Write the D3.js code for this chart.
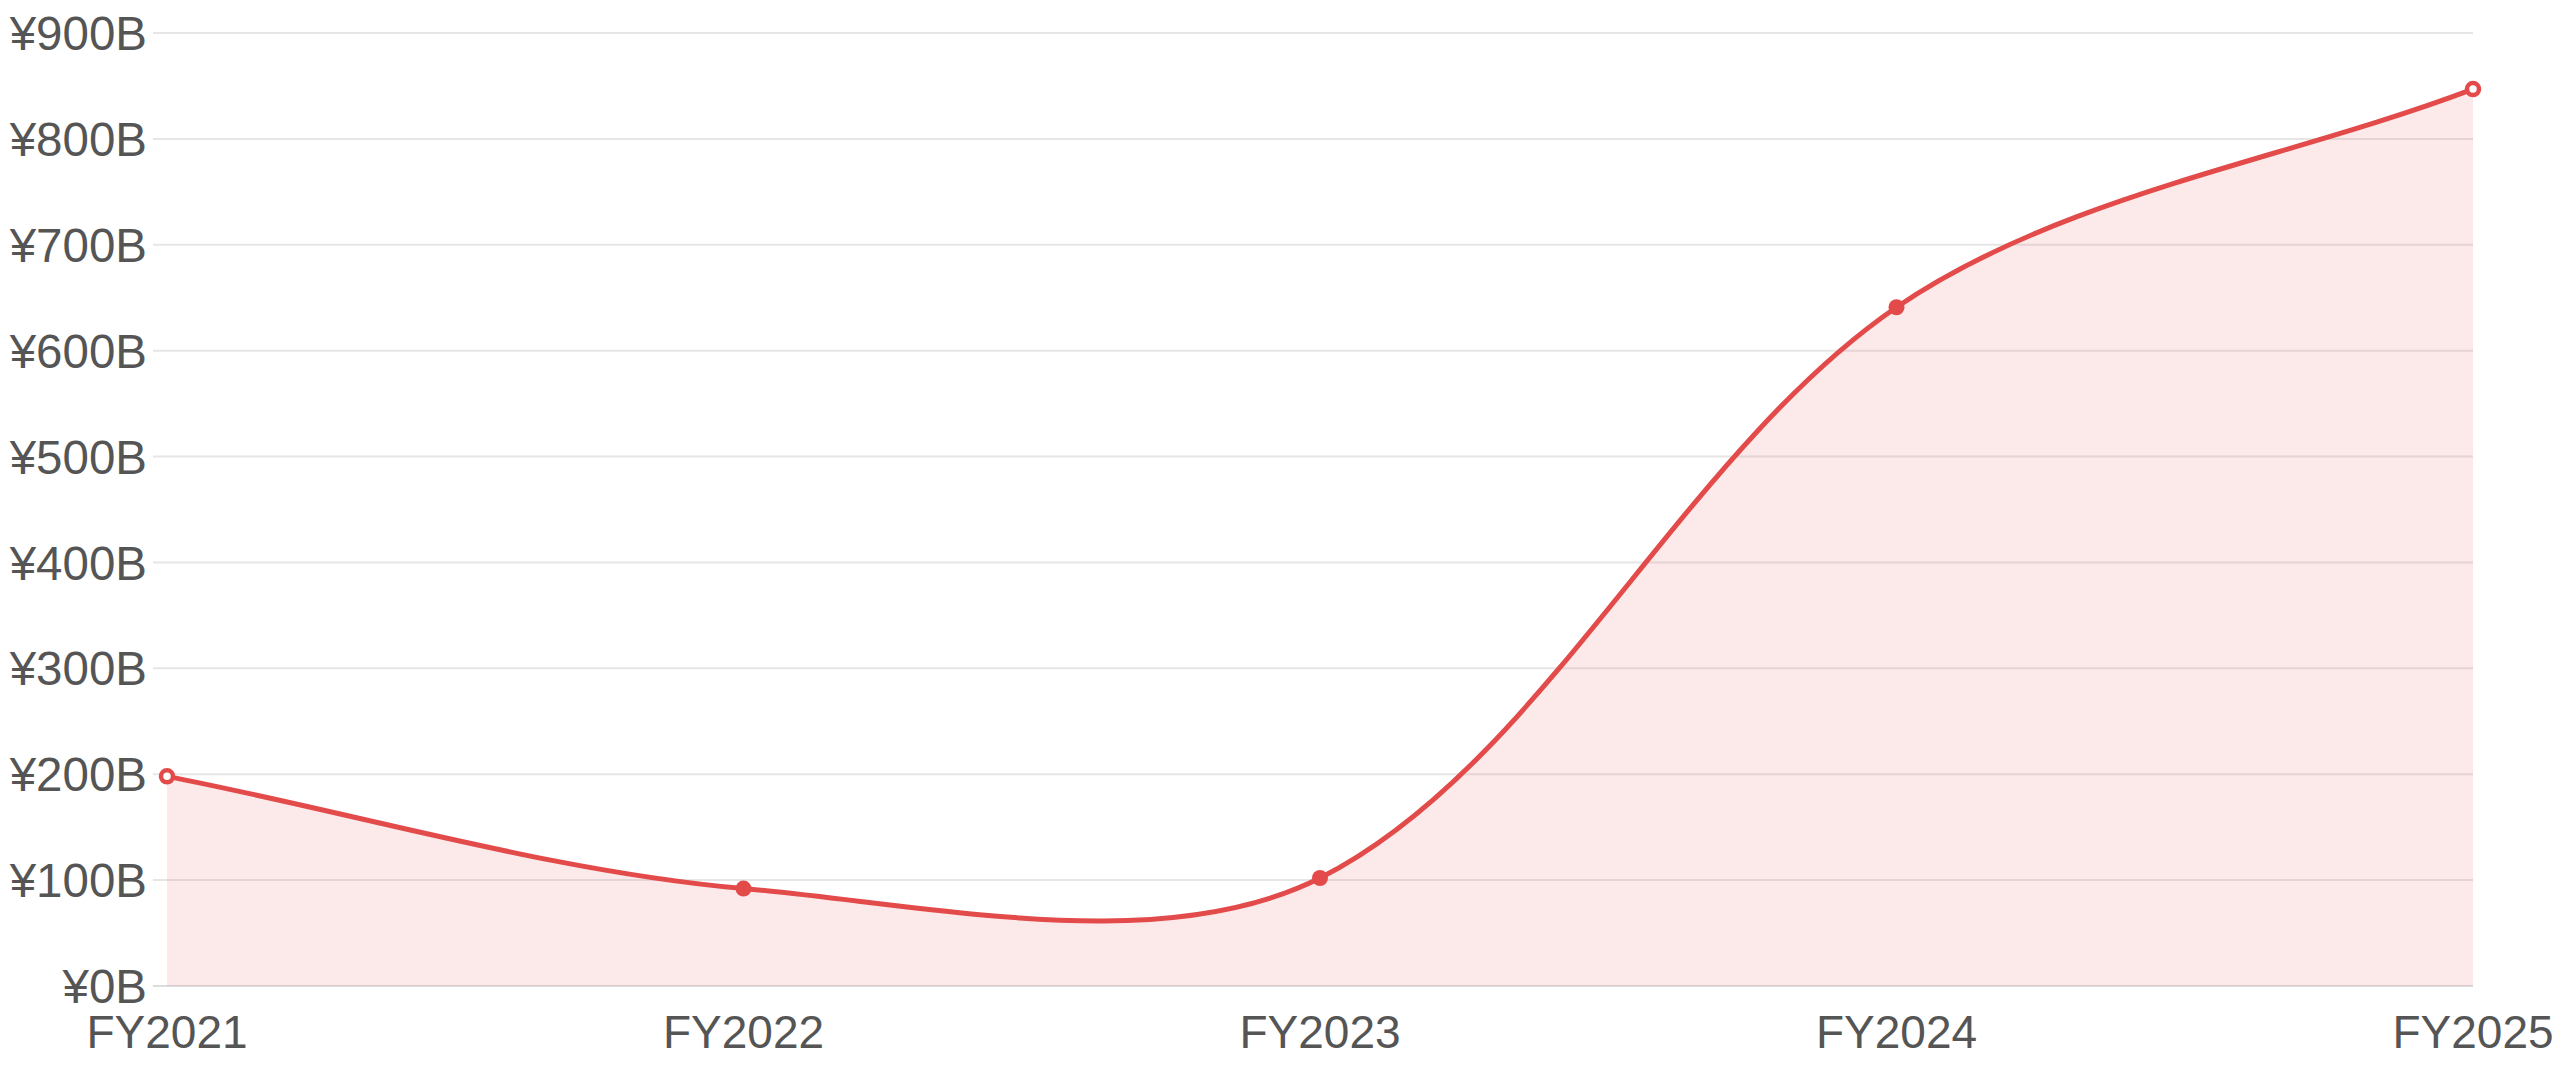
<!DOCTYPE html>
<html>
<head>
<meta charset="utf-8">
<script src="https://cdn.jsdelivr.net/npm/d3@7"></script>
<style>
  html, body { margin: 0; padding: 0; background: #fff; }
  svg { display: block; }
  .tick-label { font-family: "Liberation Sans", Arial, sans-serif; font-size: 46px; fill: #555; }
  .y-label { font-size: 47.5px; }
</style>
</head>
<body>
<svg id="chart" width="2560" height="1067"></svg>
<script>
// values (¥ billions)
const years = ['FY2021', 'FY2022', 'FY2023', 'FY2024', 'FY2025'];
const revenue = [198, 92, 102, 641, 847];
const yTicks = [0, 100, 200, 300, 400, 500, 600, 700, 800, 900];

const W = 2560, H = 1067;
const margin = {top: 33, right: 87, bottom: 81, left: 167};
const lineColor = '#e34b4b';
const tension = 0.33;

const svg = d3.select('#chart');

const x = d3.scalePoint()
    .domain(years)
    .range([margin.left, W - margin.right]);

const y = d3.scaleLinear()
    .domain([0, 900])
    .range([H - margin.bottom, margin.top]);

// grid
const grid = svg.append('g').attr('class', 'grid');
grid.selectAll('line')
    .data(yTicks)
    .enter().append('line')
    .attr('x1', margin.left - 14)
    .attr('x2', W - margin.right)
    .attr('y1', d => y(d))
    .attr('y2', d => y(d))
    .attr('stroke', d => d === 0 ? '#dcdcdc' : '#e6e6e6')
    .attr('stroke-width', 2);

// y labels
svg.append('g').selectAll('text')
    .data(yTicks)
    .enter().append('text')
    .attr('class', 'tick-label y-label')
    .attr('x', margin.left - 20)
    .attr('y', d => y(d))
    .attr('dy', '0.36em')
    .attr('text-anchor', 'end')
    .text(d => '¥' + d + 'B');

// x labels
svg.append('g').selectAll('text')
    .data(years)
    .enter().append('text')
    .attr('class', 'tick-label')
    .attr('x', d => x(d))
    .attr('y', H - 19)
    .attr('text-anchor', 'middle')
    .text(d => d);

// chart.js-like spline: control points weighted by segment length
const pts = years.map((yr, i) => [x(yr), y(revenue[i])]);

const controls = pts.map((p, i) => {
    const prev = pts[i - 1] || p;
    const next = pts[i + 1] || p;
    const d01 = Math.hypot(p[0] - prev[0], p[1] - prev[1]);
    const d12 = Math.hypot(next[0] - p[0], next[1] - p[1]);
    const s = d01 + d12 || 1;
    const fa = tension * d01 / s;
    const fb = tension * d12 / s;
    return {
        before: [p[0] - fa * (next[0] - prev[0]), p[1] - fa * (next[1] - prev[1])],
        after: [p[0] + fb * (next[0] - prev[0]), p[1] + fb * (next[1] - prev[1])]
    };
});

const buildPath = (closeToBase) => {
    const path = d3.path();
    path.moveTo(pts[0][0], pts[0][1]);
    for (let i = 1; i < pts.length; i++) {
        const c1 = controls[i - 1].after;
        const c2 = controls[i].before;
        path.bezierCurveTo(c1[0], c1[1], c2[0], c2[1], pts[i][0], pts[i][1]);
    }
    if (closeToBase) {
        path.lineTo(pts[pts.length - 1][0], y(0));
        path.lineTo(pts[0][0], y(0));
        path.closePath();
    }
    return path.toString();
};

svg.append('path')
    .attr('d', buildPath(true))
    .attr('fill', lineColor)
    .attr('fill-opacity', 0.12);

svg.append('path')
    .attr('d', buildPath(false))
    .attr('fill', 'none')
    .attr('stroke', lineColor)
    .attr('stroke-width', 5)
    .attr('stroke-linejoin', 'round');

// markers: hollow at the ends, filled in between
const isEnd = i => i === 0 || i === pts.length - 1;
svg.append('g').selectAll('circle')
    .data(pts)
    .enter().append('circle')
    .attr('cx', d => d[0])
    .attr('cy', d => d[1])
    .attr('r', (d, i) => isEnd(i) ? 6 : 8)
    .attr('fill', (d, i) => isEnd(i) ? '#fff' : lineColor)
    .attr('stroke', lineColor)
    .attr('stroke-width', (d, i) => isEnd(i) ? 4.5 : 0);
</script>
</body>
</html>
